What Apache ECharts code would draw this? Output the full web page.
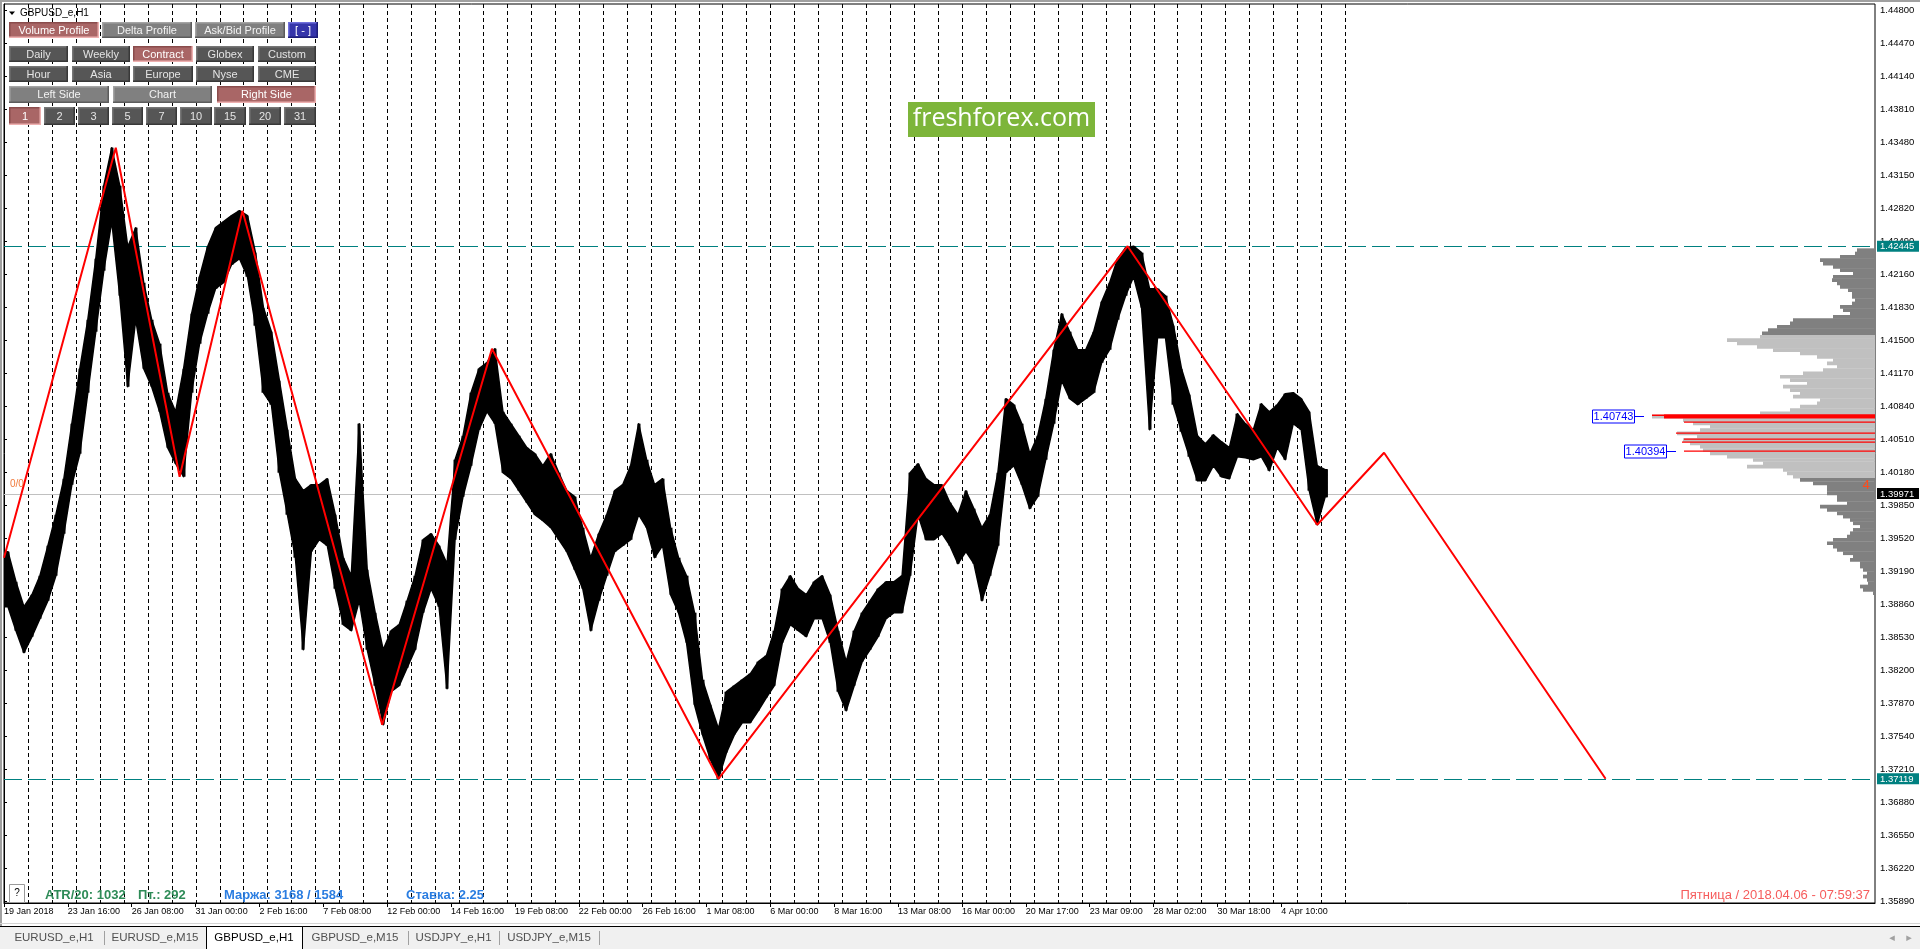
<!DOCTYPE html>
<html><head><meta charset="utf-8">
<script src="https://cdn.jsdelivr.net/npm/echarts@6.0.0/dist/echarts.min.js"></script>
<style>html,body{margin:0;padding:0;background:#fff;overflow:hidden}#c{width:1920px;height:949px}</style>
</head><body><div id="c"></div>
<script>
// ---------- data ----------
const xTickHours = [0,64,128,192,256,320,384,448,512,576,640,704,768,832,896,960,1024,1088,1152,1216,1280];
const xTickLabels = ["19 Jan 2018","23 Jan 16:00","26 Jan 08:00","31 Jan 00:00","2 Feb 16:00","7 Feb 08:00","12 Feb 00:00","14 Feb 16:00","19 Feb 08:00","22 Feb 00:00","26 Feb 16:00","1 Mar 08:00","6 Mar 00:00","8 Mar 16:00","13 Mar 08:00","16 Mar 00:00","20 Mar 17:00","23 Mar 09:00","28 Mar 02:00","30 Mar 18:00","4 Apr 10:00"];
const yTicks = [1.44800,1.44470,1.44140,1.43810,1.43480,1.43150,1.42820,1.42490,1.42160,1.41830,1.41500,1.41170,1.40840,1.40510,1.40180,1.39850,1.39520,1.39190,1.38860,1.38530,1.38200,1.37870,1.37540,1.37210,1.36880,1.36550,1.36220,1.35890];

// 8-hour high / low columns of GBPUSD H1
const colHigh = [1.3939,1.3909,1.3884,1.3896,1.3915,1.3945,1.3976,1.4012,1.4067,1.4122,
 1.4171,1.4232,1.4305,1.4343,1.4305,1.4244,1.4263,1.4208,1.4171,1.4147,
 1.4098,1.4079,1.4122,1.4177,1.4214,1.4244,1.4263,1.4269,1.4275,1.4280,
 1.4275,1.4238,1.4183,1.4159,1.4110,1.4061,1.4012,1.4000,1.4006,1.4006,
 1.4012,1.3976,1.3933,1.3915,1.4067,1.3921,1.3878,1.3841,1.3860,1.3866,
 1.3890,1.3915,1.3951,1.3957,1.3945,1.3927,1.4031,1.4055,1.4098,1.4122,
 1.4128,1.4142,1.4079,1.4067,1.4055,1.4043,1.4037,1.4025,1.4037,1.4018,
 1.4000,1.3994,1.3963,1.3933,1.3957,1.3976,1.4000,1.4006,1.4025,1.4067,
 1.4031,1.4006,1.4012,1.3963,1.3933,1.3915,1.3878,1.3811,1.3786,1.3762,
 1.3799,1.3805,1.3811,1.3817,1.3829,1.3835,1.3860,1.3902,1.3915,1.3902,
 1.3896,1.3909,1.3915,1.3896,1.3860,1.3829,1.3860,1.3878,1.3890,1.3902,
 1.3909,1.3909,1.3915,1.4018,1.4027,1.4012,1.4006,1.4006,1.3988,1.3976,
 1.4000,1.3982,1.3963,1.3976,1.4018,1.4092,1.4086,1.4067,1.4037,1.4055,
 1.4092,1.4141,1.4177,1.4159,1.4141,1.4141,1.4159,1.4189,1.4208,1.4232,
 1.4243,1.42445,1.4238,1.4202,1.4202,1.4195,1.4165,1.4122,1.4096,1.4055,
 1.4047,1.4056,1.4049,1.4043,1.4077,1.4067,1.4061,1.4087,1.4079,1.4086,
 1.4097,1.4098,1.4092,1.4079,1.4025,1.4021];
const colLow = [1.3884,1.3860,1.3838,1.3854,1.3872,1.3890,1.3915,1.3957,1.4006,1.4037,
 1.4098,1.4159,1.4220,1.4269,1.4195,1.4104,1.4171,1.4122,1.4104,1.4079,
 1.4043,1.4027,1.4014,1.4098,1.4147,1.4177,1.4202,1.4208,1.4226,1.4232,
 1.4214,1.4165,1.4098,1.4086,1.4018,1.3976,1.3933,1.3841,1.3939,1.3951,
 1.3945,1.3902,1.3866,1.3860,1.3890,1.3841,1.3805,1.3766,1.3799,1.3805,
 1.3823,1.3841,1.3878,1.3902,1.3884,1.3802,1.3951,1.3994,1.4025,1.4061,
 1.4079,1.4067,1.4018,1.4012,1.4000,1.3988,1.3976,1.3970,1.3963,1.3951,
 1.3939,1.3921,1.3902,1.3860,1.3890,1.3915,1.3939,1.3945,1.3951,1.3976,
 1.3963,1.3933,1.3945,1.3896,1.3878,1.3848,1.3786,1.3756,1.3731,1.37119,
 1.3738,1.3756,1.3768,1.3768,1.3780,1.3793,1.3805,1.3848,1.3866,1.3860,
 1.3854,1.3872,1.3872,1.3848,1.3799,1.3780,1.3805,1.3829,1.3841,1.3854,
 1.3872,1.3878,1.3878,1.3915,1.3976,1.3951,1.3951,1.3957,1.3945,1.3927,
 1.3939,1.3927,1.3890,1.3915,1.3945,1.4018,1.4025,1.4006,1.3982,1.3994,
 1.4031,1.4067,1.4110,1.4092,1.4086,1.4092,1.4098,1.4128,1.4141,1.4171,
 1.4195,1.4214,1.4183,1.4061,1.4153,1.4153,1.4086,1.4059,1.4034,1.4010,
 1.4010,1.4025,1.4014,1.4012,1.4034,1.4033,1.4031,1.4034,1.4020,1.4043,
 1.4031,1.4067,1.4061,1.4000,1.3966,1.3994];
const BAR_HOURS = 8;

const zigzagHours  = [0,112,176,239,379,489,716,1126,1316,1383,1605];
const zigzagPrices = [1.3933,1.4343,1.4014,1.4280,1.3766,1.4142,1.37119,1.42445,1.3966,1.4038,1.37119];

const levelHigh = 1.42445, levelLow = 1.37119, lastPrice = 1.39971;
const sepDays = 56;

// volume profile (bins from top)
const PROFILE_TOP = 1.42407, PROFILE_BIN = 0.000333;
const VA_HIGH = 1.41557, VA_LOW = 1.40140;
const profileVolumes = [18,20,35,55,52,42,35,22,42,43,38,35,27,23,23,20,23,35,32,25,
 42,82,85,98,107,113,115,148,138,118,102,75,58,42,48,38,52,72,95,85,
 68,92,85,75,82,55,58,75,85,115,223,192,182,165,175,198,178,192,185,175,
 172,165,148,122,112,128,92,88,82,75,62,48,48,48,38,38,28,55,48,38,
 32,25,22,15,22,25,28,42,48,42,38,32,22,25,15,15,12,8,12,8,
 7,15,12,2];
const redLevelPrices  = [1.40743,1.40684,1.40574,1.40514,1.40487,1.40394];
const redLevelVolumes = [223,191,199,191,193,191];
const labelledLevels  = [[223,1.40743],[191,1.40394]];

const bottomTexts = {atr:"ATR/20: 1032", pt:"Пт.: 292", margin:"Маржа: 3168 / 1584", rate:"Ставка: 2.25", clock:"Пятница / 2018.04.06 - 07:59:37"};
const tabs = ["EURUSD_e,H1","EURUSD_e,M15","GBPUSD_e,H1","GBPUSD_e,M15","USDJPY_e,H1","USDJPY_e,M15"];

// ---------- layout ----------
const FONT = '"Liberation Sans", Arial, sans-serif';
const GRID = {left:4, top:4, right:45, bottom:46};
const GRID_W = 1920 - GRID.left - GRID.right;
const X_MAX = 1875;
const Y_MIN = 1.35877, Y_MAX = 1.44867;

const chart = echarts.init(document.getElementById('c'), null, {renderer:'canvas', width:1920, height:949});

// price band: one polygon through every column's high (left→right) and low (right→left)
function renderPrice(params, api){
  if (params.dataIndex !== 0) return null;
  const n = colHigh.length, up = [], dn = [];
  for (let k = 0; k < n; k++) {
    const xc = k*BAR_HOURS + BAR_HOURS/2;
    up.push(api.coord([xc, colHigh[k]]));
    dn.push(api.coord([xc, colLow[k]]));
  }
  const first = [api.coord([0, colHigh[0]]), api.coord([0, colLow[0]])];
  const lastX = n*BAR_HOURS - 2;
  const last = [api.coord([lastX, colHigh[n-1]]), api.coord([lastX, colLow[n-1]])];
  const pts = [first[0]].concat(up, [last[0], last[1]], dn.reverse(), [first[1]]);
  const children = [{type:'polygon', shape:{points:pts}, style:{fill:'#000', stroke:'#000', lineWidth:1.5, lineJoin:'round'}}];
  return {type:'group', children};
}
function renderBarsThin(params, api){
  const x0 = api.value(0) + BAR_HOURS/2, lo = api.value(1), hi = api.value(2);
  const a = api.coord([x0, hi]), b = api.coord([x0, lo]);
  const x = Math.round(a[0]);
  return {type:'rect', shape:{x:x-1.5, y:a[1], width:3, height:Math.max(1, b[1]-a[1])}, style:{fill:'#000'}};
}
function renderSep(params, api){
  const t = api.coord([api.value(0), Y_MAX]), b = api.coord([api.value(0), Y_MIN]);
  const x = Math.round(t[0]) + 0.5;
  return {type:'line', shape:{x1:x, y1:t[1], x2:x, y2:b[1]}, style:{stroke:'#000', lineWidth:1, lineDash:[4,3]}};
}
const hLineStyles = [
  {stroke:'#c0c0c0', lineWidth:1, lineDash:null},
  {stroke:'#008080', lineWidth:1, lineDash:[18,6]},
  {stroke:'#008080', lineWidth:1, lineDash:[18,6]}
];
function renderHLine(params, api){
  const cs = params.coordSys;
  const y = Math.round(api.coord([0, api.value(1)])[1]) + 0.5;
  const st = hLineStyles[params.dataIndex];
  return {type:'line', shape:{x1:cs.x, y1:y, x2:cs.x + cs.width, y2:y}, style:Object.assign({fill:null}, st)};
}
const tagColors = ['#000000','#008080','#008080'];
function renderTag(params, api){
  const cs = params.coordSys;
  const p = api.value(1);
  const y = api.coord([0, p])[1];
  const x = cs.x + cs.width + 2;
  return {type:'group', children:[
    {type:'rect', shape:{x:x, y:y-5.5, width:42, height:11}, style:{fill:tagColors[params.dataIndex]}},
    {type:'text', x:x+3, y:y+0.5, style:{text:p.toFixed(5), fill:'#fff', fontSize:9.5, fontFamily:FONT, verticalAlign:'middle'}}
  ]};
}
function renderProfile(params, api){
  const v = api.value(0), p = api.value(1);
  const a = api.coord([v, p + PROFILE_BIN/2]);
  const b = api.coord([0, p - PROFILE_BIN/2]);
  const inVA = p <= VA_HIGH && p >= VA_LOW;
  return {type:'rect', shape:{x:a[0], y:a[1], width:b[0]-a[0], height:b[1]-a[1]+0.4}, style:{fill: inVA ? '#c0c0c0' : '#808080'}};
}
function renderLevel(params, api){
  const v = api.value(0), p = api.value(1);
  const a = api.coord([v, p]), b = api.coord([0, p]);
  if (params.dataIndex === 0) {
    return {type:'group', children:[
      {type:'rect', shape:{x:a[0]+12, y:a[1]-2, width:b[0]-a[0]-12, height:4}, style:{fill:'#ff0000'}},
      {type:'rect', shape:{x:a[0], y:a[1]-2, width:b[0]-a[0], height:1.5}, style:{fill:'#ff0000'}}
    ]};
  }
  return {type:'rect', shape:{x:a[0], y:Math.round(a[1])-0.5, width:b[0]-a[0], height:1.3}, style:{fill:'#ff0000'}};
}
function renderLabelBox(params, api){
  const v = api.value(0), p = api.value(1);
  const a = api.coord([v, p]);
  const right = a[0] - 18, w = 42, h = 13;
  const y = Math.round(a[1]) + 0.5;
  return {type:'group', children:[
    {type:'line', shape:{x1:right, y1:y, x2:right+10, y2:y}, style:{stroke:'#0000ff', lineWidth:1}},
    {type:'rect', shape:{x:right-w+0.5, y:y-h/2, width:w, height:h}, style:{fill:'#fff', stroke:'#0000ff', lineWidth:1}},
    {type:'text', x:right-w/2+0.5, y:y+0.5, style:{text:p.toFixed(5), fill:'#0000ff', fontSize:11, fontFamily:FONT, align:'center', verticalAlign:'middle'}}
  ]};
}

// ---------- chrome (graphic) ----------
const pal = {
  pink:{fill:'#a96666', hi:'#8a4c4c', lo:'#eeb0b0', text:'#ffffff'},
  light:{fill:'#808080', hi:'#a4a4a4', lo:'#5c5c5c', text:'#f2f2f2'},
  dark:{fill:'#565656', hi:'#767676', lo:'#383838', text:'#e4e4e4'},
  blue:{fill:'#3535aa', hi:'#7070dc', lo:'#1e1e78', text:'#ffffff'}
};
function button(label, x0, x1, y0, h, kind){
  const c = pal[kind];
  return [
    {type:'rect', z:100, silent:true, shape:{x:x0, y:y0, width:x1-x0, height:h}, style:{fill:c.fill}},
    {type:'polyline', z:101, silent:true, shape:{points:[[x0+0.75,y0+h],[x0+0.75,y0+0.75],[x1,y0+0.75]]}, style:{stroke:c.hi, lineWidth:1.5, fill:null}},
    {type:'polyline', z:101, silent:true, shape:{points:[[x0,y0+h-0.75],[x1-0.75,y0+h-0.75],[x1-0.75,y0]]}, style:{stroke:c.lo, lineWidth:1.5, fill:null}},
    {type:'text', z:102, silent:true, x:(x0+x1)/2, y:y0+h/2+0.5, style:{text:label, fill:c.text, fontSize:11, fontFamily:FONT, align:'center', verticalAlign:'middle'}}
  ];
}
const btnRows = [
  {y:22, h:16, items:[['Volume Profile',9,99,'pink'],['Delta Profile',102,192,'light'],['Ask/Bid Profile',195,285,'light'],['[ - ]',288,318,'blue']]},
  {y:46, h:16, items:[['Daily',9,68,'dark'],['Weekly',72,130,'dark'],['Contract',133,193,'pink'],['Globex',196,254,'dark'],['Custom',258,316,'dark']]},
  {y:66, h:16, items:[['Hour',9,68,'dark'],['Asia',72,130,'dark'],['Europe',133,193,'dark'],['Nyse',196,254,'dark'],['CME',258,316,'dark']]},
  {y:86, h:17, items:[['Left Side',9,109,'light'],['Chart',113,212,'light'],['Right Side',217,316,'pink']]},
  {y:107, h:18, items:[['1',9,41,'pink'],['2',44,75,'dark'],['3',78,109,'dark'],['5',112,143,'dark'],['7',146,177,'dark'],['10',180,212,'dark'],['15',214,246,'dark'],['20',249,281,'dark'],['31',284,316,'dark']]}
];
const els = [];
els.push({type:'rect', z:90, silent:true, shape:{x:0,y:0,width:1920,height:2}, style:{fill:'#a0a0a0'}});
els.push({type:'rect', z:90, silent:true, shape:{x:0,y:0,width:2,height:926}, style:{fill:'#a0a0a0'}});
els.push({type:'polygon', z:100, silent:true, shape:{points:[[9,11.5],[15,11.5],[12,15]]}, style:{fill:'#000'}});
els.push({type:'text', z:100, silent:true, x:20, y:13.5, style:{text:'GBPUSD_e,H1', fill:'#000', fontSize:10, fontFamily:FONT, verticalAlign:'middle'}});
btnRows.forEach(r => r.items.forEach(it => els.push(...button(it[0], it[1], it[2], r.y, r.h, it[3]))));
els.push({type:'rect', z:100, silent:true, shape:{x:908,y:102,width:187,height:35}, style:{fill:'#7db53a'}});
els.push({type:'text', z:101, silent:true, x:1001.5, y:119, style:{text:'freshforex.com', fill:'#fff', fontSize:25, fontFamily:'"Open Sans", sans-serif', align:'center', verticalAlign:'middle'}});
els.push({type:'text', z:100, silent:true, x:10, y:484, style:{text:'0/0', fill:'#f07a3c', fontSize:10, fontFamily:FONT, verticalAlign:'middle'}});
els.push({type:'text', z:100, silent:true, x:1866, y:485, style:{text:'4', fill:'#ff4a1a', fontSize:13, fontFamily:FONT, align:'center', verticalAlign:'middle'}});
els.push({type:'rect', z:100, silent:true, shape:{x:9.5,y:884.5,width:15,height:18}, style:{fill:'#fff', stroke:'#9a9a9a', lineWidth:1}});
els.push({type:'text', z:101, silent:true, x:17, y:893.5, style:{text:'?', fill:'#000', fontSize:10, fontFamily:FONT, align:'center', verticalAlign:'middle'}});
els.push({type:'text', z:100, silent:true, x:45, y:895, style:{text:bottomTexts.atr, fill:'#2e8b57', fontSize:13, fontWeight:'bold', fontFamily:FONT, verticalAlign:'middle'}});
els.push({type:'text', z:100, silent:true, x:138, y:895, style:{text:bottomTexts.pt, fill:'#2e8b57', fontSize:13, fontWeight:'bold', fontFamily:FONT, verticalAlign:'middle'}});
els.push({type:'text', z:100, silent:true, x:224, y:895, style:{text:bottomTexts.margin, fill:'#2a7de1', fontSize:13, fontWeight:'bold', fontFamily:FONT, verticalAlign:'middle'}});
els.push({type:'text', z:100, silent:true, x:406, y:895, style:{text:bottomTexts.rate, fill:'#2a7de1', fontSize:13, fontWeight:'bold', fontFamily:FONT, verticalAlign:'middle'}});
els.push({type:'text', z:100, silent:true, x:1870, y:895, style:{text:bottomTexts.clock, fill:'#f65c5c', fontSize:13, fontFamily:FONT, align:'right', verticalAlign:'middle'}});
els.push({type:'rect', z:100, silent:true, shape:{x:0,y:923,width:1920,height:1}, style:{fill:'#d4d4d4'}});
els.push({type:'rect', z:100, silent:true, shape:{x:0,y:926,width:1920,height:23}, style:{fill:'#f0f0f0'}});
els.push({type:'rect', z:101, silent:true, shape:{x:0,y:926,width:1920,height:1}, style:{fill:'#000'}});
const tabEdges = [4,104,206,302,408,499,599];
tabs.forEach((t,i) => {
  const x0 = tabEdges[i], x1 = tabEdges[i+1];
  const active = i === 2;
  if (active) {
    els.push({type:'rect', z:102, silent:true, shape:{x:x0+0.5,y:926.5,width:x1-x0,height:23}, style:{fill:'#fff', stroke:'#000', lineWidth:1}});
  } else if (i !== 1) {
    els.push({type:'rect', z:102, silent:true, shape:{x:x1,y:931,width:1,height:14}, style:{fill:'#a0a0a0'}});
  }
  els.push({type:'text', z:103, silent:true, x:(x0+x1)/2, y:938, style:{text:t, fill: active ? '#000' : '#505050', fontSize:11.5, fontFamily:FONT, align:'center', verticalAlign:'middle'}});
});
els.push({type:'text', z:103, silent:true, x:1892, y:938, style:{text:'◂', fill:'#a0a0a0', fontSize:11, fontFamily:'"DejaVu Sans"', align:'center', verticalAlign:'middle'}});
els.push({type:'text', z:103, silent:true, x:1909, y:938, style:{text:'▸', fill:'#a0a0a0', fontSize:11, fontFamily:'"DejaVu Sans"', align:'center', verticalAlign:'middle'}});

const sepData = [];
for (let d = 1; d <= sepDays; d++) sepData.push([d*24, Y_MAX]);
const priceData = colHigh.map((h,k) => [k*BAR_HOURS, colLow[k], h]);

const option = {
  animation:false,
  backgroundColor:'#fff',
  grid:{left:GRID.left, top:GRID.top, right:GRID.right, bottom:GRID.bottom, show:true, borderColor:'#000', borderWidth:1, backgroundColor:'#fff'},
  xAxis:[
    {type:'value', min:0, max:X_MAX, position:'bottom',
     axisLine:{show:true, lineStyle:{color:'#000', width:1}},
     axisTick:{show:true, customValues:xTickHours, length:4, lineStyle:{color:'#000'}},
     axisLabel:{customValues:xTickHours, formatter:v => { const i = xTickHours.indexOf(Math.round(v)); return i >= 0 ? xTickLabels[i] : ''; },
       align:'left', margin:4, fontSize:9, color:'#000', fontFamily:FONT},
     splitLine:{show:false}},
    {type:'value', min:0, max:GRID_W, inverse:true, show:false, gridIndex:0}
  ],
  yAxis:{type:'value', position:'right', min:Y_MIN, max:Y_MAX,
    axisLine:{show:true, lineStyle:{color:'#000'}},
    axisTick:{show:true, customValues:yTicks, length:3, lineStyle:{color:'#000'}},
    axisLabel:{customValues:yTicks, formatter:v => v.toFixed(5), fontSize:9.5, color:'#000', margin:5, fontFamily:FONT},
    splitLine:{show:false}},
  series:[
    {type:'custom', name:'sep', z:1, silent:true, clip:true, xAxisIndex:0, data:sepData, encode:{x:0, y:1}, renderItem:renderSep},
    {type:'custom', name:'hlines', z:1, silent:true, xAxisIndex:0,
     data:[[0,lastPrice],[0,levelHigh],[0,levelLow]], encode:{x:0,y:1}, renderItem:renderHLine},
    {type:'custom', name:'profile', z:2, silent:true, xAxisIndex:1, clip:true,
     data:profileVolumes.map((v,i) => [v, PROFILE_TOP - i*PROFILE_BIN]), encode:{x:0,y:1}, renderItem:renderProfile},
    {type:'custom', name:'levels', z:3, silent:true, xAxisIndex:1,
     data:redLevelPrices.map((p,i) => [redLevelVolumes[i], p]), encode:{x:0,y:1}, renderItem:renderLevel},
    {type:'custom', name:'levelLabels', z:4, silent:true, xAxisIndex:1,
     data:labelledLevels, encode:{x:0,y:1}, renderItem:renderLabelBox},
    {type:'custom', name:'priceBand', z:5, silent:true, xAxisIndex:0, clip:true,
     data:priceData, encode:{x:0, y:[1,2]}, renderItem:renderPrice},
    {type:'custom', name:'priceBars', z:5, silent:true, xAxisIndex:0, clip:true,
     data:priceData, encode:{x:0, y:[1,2]}, renderItem:renderBarsThin},
    {type:'line', name:'zigzag', z:6, silent:true, xAxisIndex:0, symbol:'none',
     data:zigzagHours.map((h,i) => [h, zigzagPrices[i]]), lineStyle:{color:'#ff0000', width:2}},
    {type:'custom', name:'tags', z:20, silent:true, xAxisIndex:0,
     data:[[0,lastPrice],[0,levelHigh],[0,levelLow]], encode:{x:0,y:1}, renderItem:renderTag}
  ],
  graphic:{elements:els}
};
chart.setOption(option);
</script></body></html>
